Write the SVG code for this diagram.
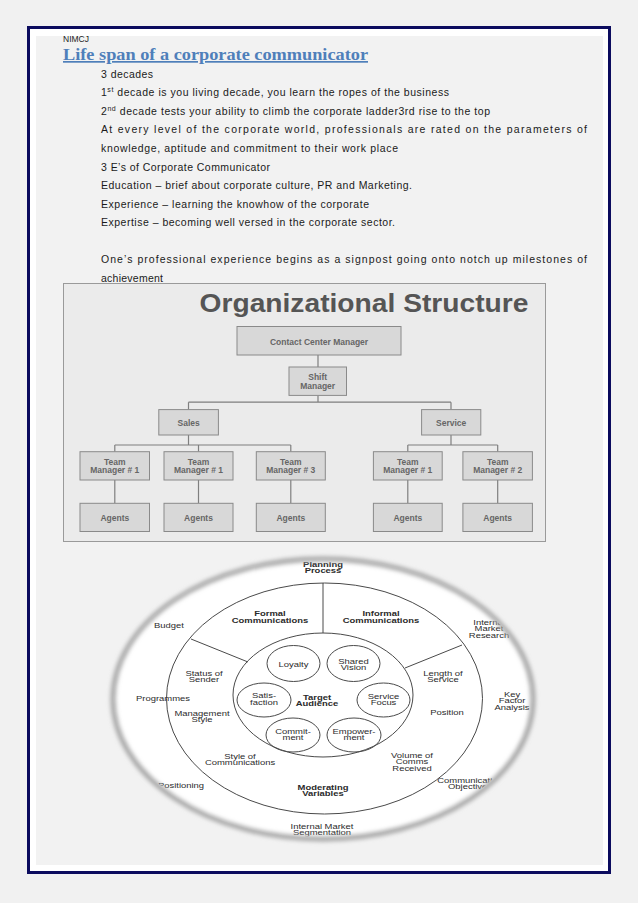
<svg xmlns="http://www.w3.org/2000/svg" width="638" height="903" viewBox="0 0 638 903">
<defs>
<style>
.body{font-family:"Liberation Sans",Arial,sans-serif;font-size:10.5px;fill:#1a1a1a}
.title{font-family:"Liberation Serif","Times New Roman",serif;font-weight:bold;font-size:17px;fill:#4f7fba;text-decoration:underline}
.hdr{font-family:"Liberation Sans",Arial,sans-serif;font-size:8.5px;fill:#222}
.ocbg{fill:#ebebeb;stroke:#9a9a9a;stroke-width:1}
.ocbox{fill:#d8d8d8;stroke:#8a8a8a;stroke-width:1}
.oct{font-family:"Liberation Sans",Arial,sans-serif;font-weight:bold;font-size:8.5px;fill:#666;text-anchor:middle}
.ocl{stroke:#7f7f7f;stroke-width:1.2;fill:none}
.cl{font-family:"Liberation Sans",Arial,sans-serif;font-size:7px;fill:#2b2b2b;text-anchor:middle}
.cb{font-weight:bold}
.ring{fill:none;stroke:#4a4a4a;stroke-width:1}
</style>
<filter id="blur" x="-10%" y="-10%" width="120%" height="120%"><feGaussianBlur stdDeviation="2.2"/></filter>
<clipPath id="oval"><ellipse cx="323" cy="698" rx="209" ry="139"/></clipPath>
</defs>

<!-- page -->
<rect x="0" y="0" width="638" height="903" fill="#f1f1f1"/>
<rect x="28.5" y="27.5" width="581" height="845" fill="#ffffff" stroke="#0b0b5e" stroke-width="3"/>
<rect x="36" y="36" width="567" height="829" fill="#f2f2f2"/>

<!-- text block -->
<g id="text-block">
<text class="hdr" x="63" y="42">NIMCJ</text>
<text class="title" x="63" y="60" textLength="305" lengthAdjust="spacingAndGlyphs">Life span of a corporate communicator</text>
<text class="body" x="101" y="77.5" textLength="52">3 decades</text>
<text class="body" x="101" y="96" textLength="348">1<tspan font-size="7" dy="-4">st</tspan><tspan dy="4"> decade is you living decade, you learn the ropes of the business</tspan></text>
<text class="body" x="101" y="114.5" textLength="389">2<tspan font-size="7" dy="-4">nd</tspan><tspan dy="4"> decade tests your ability to climb the corporate ladder3rd rise to the top</tspan></text>
<text class="body" x="101" y="133" textLength="486" lengthAdjust="spacing">At every level of the corporate world, professionals are rated on the parameters of</text>
<text class="body" x="101" y="152" textLength="297">knowledge, aptitude and commitment  to their work place</text>
<text class="body" x="101" y="170.5" textLength="169">3 E’s of Corporate Communicator</text>
<text class="body" x="101" y="189" textLength="311">Education – brief about corporate culture, PR and Marketing.</text>
<text class="body" x="101" y="207.5" textLength="268">Experience – learning the knowhow of the corporate</text>
<text class="body" x="101" y="226" textLength="294">Expertise – becoming well versed in the corporate sector.</text>
<text class="body" x="101" y="263" textLength="486" lengthAdjust="spacing">One’s professional experience begins as a signpost going onto notch up milestones of</text>
<text class="body" x="101" y="281.5" textLength="62">achievement</text>
</g>

<!-- organizational chart -->
<g id="org-chart">
<rect class="ocbg" x="63.5" y="283.5" width="482" height="258"/>
<text x="199.5" y="312" font-family="'Liberation Sans',Arial,sans-serif" font-weight="bold" font-size="26" fill="#555" textLength="329" lengthAdjust="spacingAndGlyphs">Organizational Structure</text>

<g id="org-connectors">
<path class="ocl" d="M318 355 V367 M318 395.4 V402.2 M188.5 402.2 H451 M188.5 402.2 V409.6 M451 402.2 V409.6"/>
<path class="ocl" d="M188.5 435 V445 M114.8 445 H290.8 M114.8 445 V451.7 M198.5 445 V451.7 M290.8 445 V451.7"/>
<path class="ocl" d="M451 435 V445 M407.8 445 H497.7 M407.8 445 V451.7 M497.7 445 V451.7"/>
<path class="ocl" d="M114.8 480 V503.3 M198.5 480 V503.3 M290.8 480 V503.3 M407.8 480 V503.3 M497.7 480 V503.3"/>
</g>

<g id="node-ccm"><rect class="ocbox" x="237" y="326.5" width="164" height="28.5"/><text class="oct" x="319" y="344.5" font-size="10">Contact Center Manager</text></g>
<g id="node-shift"><rect class="ocbox" x="289" y="367" width="57.5" height="28.4"/><text class="oct" x="317.7" y="380"><tspan x="317.7">Shift</tspan><tspan x="317.7" dy="8.6">Manager</tspan></text></g>
<g id="node-sales"><rect class="ocbox" x="158.8" y="409.6" width="59.6" height="25.4"/><text class="oct" x="188.6" y="425.7">Sales</text></g>
<g id="node-service"><rect class="ocbox" x="421.6" y="409.6" width="59.2" height="25.4"/><text class="oct" x="451.2" y="425.7">Service</text></g>

<g id="node-tm1"><rect class="ocbox" x="80" y="451.7" width="69.5" height="28.3"/><text class="oct" y="464.5"><tspan x="114.8">Team</tspan><tspan x="114.8" dy="8.6">Manager # 1</tspan></text></g>
<g id="node-tm2"><rect class="ocbox" x="164" y="451.7" width="69" height="28.3"/><text class="oct" y="464.5"><tspan x="198.5">Team</tspan><tspan x="198.5" dy="8.6">Manager # 1</tspan></text></g>
<g id="node-tm3"><rect class="ocbox" x="256.3" y="451.7" width="69" height="28.3"/><text class="oct" y="464.5"><tspan x="290.8">Team</tspan><tspan x="290.8" dy="8.6">Manager # 3</tspan></text></g>
<g id="node-tm4"><rect class="ocbox" x="373.4" y="451.7" width="68.8" height="28.3"/><text class="oct" y="464.5"><tspan x="407.8">Team</tspan><tspan x="407.8" dy="8.6">Manager # 1</tspan></text></g>
<g id="node-tm5"><rect class="ocbox" x="462.9" y="451.7" width="69.5" height="28.3"/><text class="oct" y="464.5"><tspan x="497.7">Team</tspan><tspan x="497.7" dy="8.6">Manager # 2</tspan></text></g>

<g id="node-ag1"><rect class="ocbox" x="80" y="503.3" width="69.5" height="28.2"/><text class="oct" x="114.8" y="520.5">Agents</text></g>
<g id="node-ag2"><rect class="ocbox" x="164" y="503.3" width="69" height="28.2"/><text class="oct" x="198.5" y="520.5">Agents</text></g>
<g id="node-ag3"><rect class="ocbox" x="256.3" y="503.3" width="69" height="28.2"/><text class="oct" x="290.8" y="520.5">Agents</text></g>
<g id="node-ag4"><rect class="ocbox" x="373.4" y="503.3" width="68.8" height="28.2"/><text class="oct" x="407.8" y="520.5">Agents</text></g>
<g id="node-ag5"><rect class="ocbox" x="462.9" y="503.3" width="69.5" height="28.2"/><text class="oct" x="497.7" y="520.5">Agents</text></g>
</g>

<!-- circle diagram -->
<g id="circle-diagram">
<ellipse cx="323" cy="698" rx="210" ry="140" fill="#ffffff"/>
<g id="circle-lines">
<ellipse class="ring" cx="324.5" cy="698.5" rx="158" ry="115.5"/>
<ellipse class="ring" cx="323" cy="695" rx="90" ry="62"/>
<path class="ring" d="M323 583 V633 M191 639 L248 662 M462 645 L405 668"/>
</g>
<g id="inner-nodes">
<ellipse class="ring" cx="293.5" cy="663.5" rx="26.5" ry="18"/>
<ellipse class="ring" cx="353.5" cy="663.5" rx="26.5" ry="18"/>
<ellipse class="ring" cx="264" cy="700" rx="27" ry="17"/>
<ellipse class="ring" cx="383.5" cy="700" rx="26.5" ry="17"/>
<ellipse class="ring" cx="293" cy="735" rx="27" ry="17"/>
<ellipse class="ring" cx="354" cy="735" rx="27" ry="17"/>
</g>
<g id="circle-labels" clip-path="url(#oval)">
<text class="cl" transform="translate(293.5,666.5) scale(1.35,1)">Loyalty</text>
<text class="cl" transform="translate(353.5,663.5) scale(1.35,1)"><tspan x="0">Shared</tspan><tspan x="0" dy="7">Vision</tspan></text>
<text class="cl" transform="translate(264,697.5) scale(1.35,1)"><tspan x="0">Satis-</tspan><tspan x="0" dy="7.5">faction</tspan></text>
<text class="cl cb" transform="translate(317,699.5) scale(1.35,1)"><tspan x="0">Target</tspan><tspan x="0" dy="7">Audience</tspan></text>
<text class="cl" transform="translate(383.5,698.5) scale(1.35,1)"><tspan x="0">Service</tspan><tspan x="0" dy="7">Focus</tspan></text>
<text class="cl" transform="translate(293,733.5) scale(1.35,1)"><tspan x="0">Commit-</tspan><tspan x="0" dy="7">ment</tspan></text>
<text class="cl" transform="translate(354,733.5) scale(1.35,1)"><tspan x="0">Empower-</tspan><tspan x="0" dy="7">ment</tspan></text>

<text class="cl cb" transform="translate(323,566.5) scale(1.35,1)"><tspan x="0">Planning</tspan><tspan x="0" dy="7">Process</tspan></text>
<text class="cl cb" transform="translate(270,615.5) scale(1.35,1)"><tspan x="0">Formal</tspan><tspan x="0" dy="7.3">Communications</tspan></text>
<text class="cl cb" transform="translate(381,615.5) scale(1.35,1)"><tspan x="0">Informal</tspan><tspan x="0" dy="7.3">Communications</tspan></text>
<text class="cl cb" transform="translate(323,789.5) scale(1.35,1)"><tspan x="0">Moderating</tspan><tspan x="0" dy="7">Variables</tspan></text>

<text class="cl" transform="translate(169,627.5) scale(1.35,1)">Budget</text>
<text class="cl" transform="translate(489,624.5) scale(1.35,1)"><tspan x="0">Internal</tspan><tspan x="0" dy="7">Market</tspan><tspan x="0" dy="7">Research</tspan></text>
<text class="cl" transform="translate(204,675.5) scale(1.35,1)"><tspan x="0">Status of</tspan><tspan x="0" dy="7">Sender</tspan></text>
<text class="cl" transform="translate(163,700.5) scale(1.35,1)" text-anchor="end">Programmes</text>
<text class="cl" transform="translate(202,715.5) scale(1.35,1)"><tspan x="0">Management</tspan><tspan x="0" dy="7">Style</tspan></text>
<text class="cl" transform="translate(240,758.5) scale(1.35,1)"><tspan x="0">Style of</tspan><tspan x="0" dy="7">Communications</tspan></text>
<text class="cl" transform="translate(181,787.5) scale(1.35,1)">Positioning</text>
<text class="cl" transform="translate(322,828.5) scale(1.35,1)"><tspan x="0">Internal Market</tspan><tspan x="0" dy="7">Segmentation</tspan></text>
<text class="cl" transform="translate(443,675.5) scale(1.35,1)"><tspan x="0">Length of</tspan><tspan x="0" dy="7">Service</tspan></text>
<text class="cl" transform="translate(447,714.5) scale(1.35,1)">Position</text>
<text class="cl" transform="translate(512,696.5) scale(1.35,1)"><tspan x="0">Key</tspan><tspan x="0" dy="7">Factor</tspan><tspan x="0" dy="7">Analysis</tspan></text>
<text class="cl" transform="translate(412,757.5) scale(1.35,1)"><tspan x="0">Volume of</tspan><tspan x="0" dy="7">Comms</tspan><tspan x="0" dy="7">Received</tspan></text>
<text class="cl" transform="translate(470,782.5) scale(1.35,1)"><tspan x="0">Communication</tspan><tspan x="0" dy="7">Objectives</tspan></text>
</g>
<ellipse cx="323" cy="699" rx="210" ry="140" fill="none" stroke="#a6a6a6" stroke-width="5" filter="url(#blur)"/>
</g>
</svg>
